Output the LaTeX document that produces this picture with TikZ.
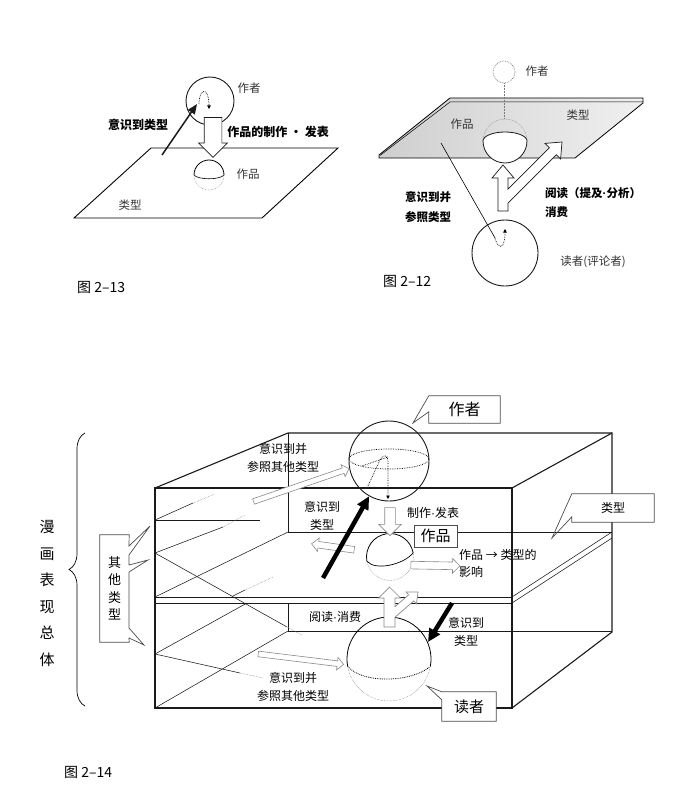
\documentclass[tikz,border=0pt]{standalone}
\usepackage{fontspec}
\setmainfont{Noto Sans CJK SC}
\newfontfamily\dotfont{Liberation Sans}
\newcommand\middot{{\dotfont ·}}
\usetikzlibrary{positioning,arrows.meta,shapes.arrows,decorations.pathreplacing,calc}
\definecolor{cLine}{HTML}{1A1A1A}
\definecolor{cText}{HTML}{333333}
\definecolor{cSoft}{HTML}{8A8A8A}
\definecolor{cFade}{HTML}{7A7A7A}
\tikzset{
  lbl/.style={font=\fontsize{11.5}{14}\selectfont,text=cText,inner sep=1pt},
  lbl-bold/.style={font=\fontsize{12}{19.5}\selectfont\bfseries,align=center,inner sep=1pt},
  lbl-text/.style={font=\fontsize{12}{17.5}\selectfont,align=center,inner sep=1pt},
  caption/.style={font=\fontsize{14}{16}\selectfont,anchor=west,inner sep=0pt},
  callout-text/.style={fill=white,inner sep=0pt,font=\fontsize{15}{18}\selectfont},
  callout-line/.style={draw=black!70,line width=0.7pt},
  edge-box/.style={line width=1.1pt,draw=cLine},
  edge-thin/.style={line width=0.55pt,draw=cLine},
  edge-fade/.style={densely dotted,line width=0.5pt,draw=cFade},
  hollow/.style n args={3}{single arrow,draw=cLine,fill=white,line width=0.7pt,
    inner xsep=0pt,inner ysep=#1,single arrow head extend=#2,
    minimum height=#3,single arrow tip angle=90,anchor=center},
  hollow-light/.style={draw=cSoft,line width=0.6pt},
  hollow-shape/.style={draw=cSoft,fill=white,line width=0.7pt},
  arrow-strong/.style={-{Triangle[length=10pt,width=8pt]},line width=1.5pt,draw=cLine},
  arrow-heavy/.style={-{Triangle[length=13pt,width=12pt]},line width=4.5pt,draw=black},
  arrow-dotted/.style={densely dotted,line width=0.7pt,-{Triangle[length=3.5pt,width=3.5pt]}},
}

\begin{document}
\begin{tikzpicture}[x=1pt,y=-1pt]
  \useasboundingbox (0,0) rectangle (700,805);

  % ---- 图 2-13
  \draw[line width=0.9pt] (151,148) -- (338,148) -- (262,218) -- (74,218) -- cycle;
  \node[circle,draw=cLine,line width=0.9pt,minimum size=48pt,inner sep=0pt] (author13) at (210,101) {};
  \node[hollow={8.5pt}{5.5pt}{40pt},rotate=-90] (make13) at (213,133) {};
  \draw[arrow-dotted] (199,104) .. controls (199,88) and (209,86) .. (209,109);
  \coordinate (aware13-from) at (162,155);
  \coordinate (aware13-to) at (197,104);
  \draw[arrow-strong] (aware13-from) -- (aware13-to);
  \coordinate (work13) at (209,175);
  \draw[line width=0.8pt] ($(work13)+(-15,0)$) arc[start angle=180,end angle=360,radius=15];
  \draw[line width=0.6pt] ($(work13)+(-15,0)$) .. controls +(4,5) and +(-4,5) .. ($(work13)+(15,0)$);
  \draw[edge-fade] ($(work13)+(15,0)$) arc[start angle=0,end angle=180,radius=15];
  \node[lbl] (author13-lbl) at (249,88) {作者};
  \node[lbl-bold] (aware13) at (138,125) {意识到类型};
  \node[lbl-bold] (make13-lbl) at (278,132) {作品的制作 · 发表};
  \node[lbl] (work13-lbl) at (248,174) {作品};
  \node[lbl] (genre13) at (130,205) {类型};
  \node[caption] (cap13) at (77,287) {图 2–13};

  % ---- 图 2-12
  \shade[left color=gray!38,right color=gray!12] (450,98) -- (643,98) -- (643,103) -- (575,158) -- (379,158) -- (379,155) -- cycle;
  \draw[line width=0.8pt] (450,98) -- (643,98) -- (643,103) -- (575,158) -- (379,158) -- (379,155) -- cycle;
  \draw[line width=0.5pt] (380,155.5) -- (450,102) -- (643,102);
  \node[circle,draw=cFade,densely dotted,line width=0.7pt,minimum size=22pt,inner sep=0pt] (author12) at (504,72) {};
  \coordinate (work12-top) at (504,119);
  \draw[edge-fade] (author12.south) -- (work12-top);
  \coordinate (work12) at (505,141);
  \draw[edge-fade] ($(work12)+(-22,0)$) arc[start angle=180,end angle=360,radius=22];
  \filldraw[fill=white,draw=cLine,line width=0.8pt] ($(work12)+(-22,0)$) arc[start angle=180,end angle=0,radius=22]
    arc[start angle=0,end angle=-180,x radius=22,y radius=9] -- cycle;
  \draw[hollow-shape,draw=cLine] (498,211) -- (498,178) -- (492,178) -- (503,165) -- (514,178) -- (508,178)
    -- (508,189) -- (549.3,147.7) -- (545,143.4) -- (562,142) -- (560.6,159) -- (556.3,154.7)
    -- (508,203) -- (508,211) -- cycle;
  \node[circle,draw=cLine,line width=0.9pt,minimum size=66pt,inner sep=0pt] (reader12) at (505,253) {};
  \coordinate (refer12-from) at (441,143);
  \coordinate (refer12-to) at (495,238);
  \draw[line width=0.6pt] (refer12-from) -- (refer12-to);
  \draw[arrow-dotted] (refer12-to) .. controls (498,250) and (505,250) .. (505,229);
  \node[lbl] (author12-lbl) at (537,71) {作者};
  \node[lbl] (work12-lbl) at (462,124) {作品};
  \node[lbl] (genre12) at (578,115) {类型};
  \node[lbl-bold,font=\fontsize{11.5}{19.5}\selectfont\bfseries] (refer12) at (428,207) {意识到并\\参照类型};
  \node[lbl-bold,font=\fontsize{11.5}{19.5}\selectfont\bfseries,align=left,anchor=west] (read12) at (544,202.5) {阅读（提及\middot 分析）\\消费};
  \node[lbl] (reader12-lbl) at (593,262) {读者(评论者)};
  \node[caption] (cap12) at (383,281) {图 2–12};

  % ---- 图 2-14: box
  \draw[edge-box] (155,488) rectangle (512,708);
  \draw[edge-box] (155,488) -- (288,433) -- (612,433) -- (612,632) -- (512,708);
  \draw[edge-box] (512,488) -- (612,433);
  \draw[edge-thin] (288,433) -- (288,532) -- (612,532);
  \draw[edge-thin] (155,597) -- (288,532);
  \draw[edge-thin] (155,597) -- (512,597);
  \draw[edge-thin] (155,603) -- (512,603);
  \draw[edge-thin] (512,597) -- (612,532);
  \draw[edge-thin] (512,603) -- (612,538);
  \draw[edge-thin] (288,603) -- (288,631) -- (612,631);
  \draw[edge-thin] (155,708) -- (288,631);
  % other genres seen on the side
  \draw[edge-thin] (155,520) -- (193,503);
  \draw[edge-fade] (193,503) -- (215,494);
  \draw[edge-thin] (155,520) -- (260,520);
  \draw[edge-thin] (155,553) -- (223,527);
  \draw[edge-fade] (223,527) -- (245,515);
  \draw[edge-thin] (155,553) -- (287,627);
  \draw[edge-fade] (287,627) -- (302,635);
  \draw[edge-thin] (233,596) -- (245,590);
  \draw[edge-fade] (245,590) -- (273,577);
  \draw[edge-thin] (155,654) -- (247,603);
  \draw[edge-thin] (155,654) -- (240,673);
  \draw[edge-fade] (240,673) -- (263,678);

  % author sphere
  \node[circle,draw=cLine,line width=0.9pt,minimum size=80pt,inner sep=0pt] (author14) at (389,461) {};
  \draw[densely dotted,line width=0.7pt] (389,459) ellipse[x radius=40,y radius=10];
  \draw[densely dotted,line width=0.7pt] (362,466) -- (388,457);
  \draw[arrow-dotted] (368,486) -- (379,462) .. controls (382,455) and (388,452) .. (388,462) -- (388,499);

  % work sphere
  \coordinate (work14) at (390,557);
  \draw[line width=0.8pt] ($(work14)+(170:23.5)$) arc[start angle=170,end angle=350,radius=23.5];
  \draw[line width=0.7pt] ($(work14)+(170:23.5)$) .. controls +(8,10) and +(-10,12) .. ($(work14)+(350:23.5)$);
  \draw[edge-fade] ($(work14)+(-10:23.5)$) arc[start angle=-10,end angle=170,radius=23.5];

  % reader sphere
  \coordinate (reader14) at (389,659);
  \draw[line width=0.8pt] ($(reader14)+(170:42)$) arc[start angle=170,end angle=370,radius=42];
  \draw[densely dotted,line width=0.8pt] ($(reader14)+(170:42)$) .. controls +(15,18) and +(-18,16) .. ($(reader14)+(10:42)$);
  \draw[edge-fade] ($(reader14)+(10:42)$) arc[start angle=10,end angle=170,radius=42];

  % hollow arrows
  \node[hollow={2.5pt}{3.5pt}{101pt},hollow-light,rotate=19] (refer14-up) at (300,485.5) {};
  \node[hollow={5pt}{6pt}{28pt},hollow-light,rotate=-90] (make14) at (390,519) {};
  \node[hollow={3pt}{3.5pt}{43pt},hollow-light,rotate=172] (back14) at (334.5,547) {};
  \node[hollow={3.5pt}{3.5pt}{49pt},hollow-light,rotate=-1] (influence14) at (433.5,565.5) {};
  \node[hollow={2.5pt}{3.5pt}{86pt},hollow-light,rotate=-7] (refer14-dn) at (299.5,659) {};
  \draw[hollow-shape] (384,627) -- (384,598) -- (378.5,598) -- (389.5,587) -- (400.5,598) -- (395,598)
    -- (395,606.7) -- (408.6,594.9) -- (406,591.9) -- (418,592) -- (416.4,603.9) -- (413.8,600.9)
    -- (395,617.2) -- (395,627) -- cycle;

  % black arrows
  \coordinate (aware14-up-from) at (323,578);
  \draw[arrow-heavy] (aware14-up-from) -- (author14);
  \coordinate (aware14-dn-from) at (452,603);
  \coordinate (aware14-dn-to) at (428,642);
  \draw[arrow-heavy] (aware14-dn-from) -- (aware14-dn-to);

  % labels
  \node[lbl-text] (refer14-up-lbl) at (283,458) {意识到并\\参照其他类型};
  \node[lbl-text] (aware14-up-lbl) at (322,516) {意识到\\类型};
  \node[lbl-text] (make14-lbl) at (433,513) {制作\middot 发表};
  \node[lbl-text,align=left,anchor=west] (influence14-lbl) at (458,563.5) {作品 → 类型的\\影响};
  \node[lbl-text] (read14-lbl) at (335,617) {阅读\middot 消费};
  \node[lbl-text] (aware14-dn-lbl) at (466,632) {意识到\\类型};
  \node[lbl-text] (refer14-dn-lbl) at (293,687) {意识到并\\参照其他类型};

  % callouts
  \node[callout-text,draw=black!70,line width=0.7pt,minimum width=43pt,minimum height=22pt] (work14-box) at (435.5,536) {作品};
  \node[callout-text,font=\fontsize{16}{18}\selectfont,minimum width=71pt,minimum height=27pt] (author14-box) at (464.5,409.5) {作者};
  \coordinate (author14-tip) at (413,423);
  \draw[callout-line] (author14-box.north west) -- (author14-tip) -- ($(author14-box.north west)+(0,16)$)
    -- (author14-box.south west) -- (author14-box.south east) -- (author14-box.north east) -- cycle;
  \node[callout-text,font=\fontsize{12}{14}\selectfont,minimum width=82pt,minimum height=28pt] (genre14-box) at (613,508) {类型};
  \coordinate (genre14-tip) at (552,538);
  \draw[callout-line] (genre14-box.north west) -- (genre14-tip) -- ($(genre14-box.north west)+(0,23)$)
    -- (genre14-box.south west) -- (genre14-box.south east) -- (genre14-box.north east) -- cycle;
  \node[callout-text,minimum width=54pt,minimum height=29pt] (reader14-box) at (469,706.5) {读者};
  \coordinate (reader14-tip) at (427,686);
  \draw[callout-line] (reader14-box.north west) -- (reader14-tip) -- ($(reader14-box.north west)+(0,8)$)
    -- (reader14-box.south west) -- (reader14-box.south east) -- (reader14-box.north east) -- cycle;
  \node[callout-text,font=\fontsize{13}{17.5}\selectfont,align=center,minimum width=29pt,minimum height=107pt] (other14-box) at (114.5,588.5) {其\\他\\类\\型};
  \draw[callout-line] (other14-box.north west) -- (other14-box.north east) -- (129,546) -- (150,526) -- (129,555)
    -- (129,565) -- (148,560) -- (129,572) -- (129,628) -- (144,645) -- (129,638)
    -- (other14-box.south east) -- (other14-box.south west) -- cycle;

  % whole
  \draw[decorate,decoration={brace,amplitude=16pt},line width=0.7pt] (85,706) -- (85,433);
  \node[font=\fontsize{15}{26.6}\selectfont,align=center,inner sep=0pt] (whole14) at (47,593.5) {漫\\画\\表\\现\\总\\体};
  \node[caption] (cap14) at (64,772) {图 2–14};
\end{tikzpicture}
\end{document}
